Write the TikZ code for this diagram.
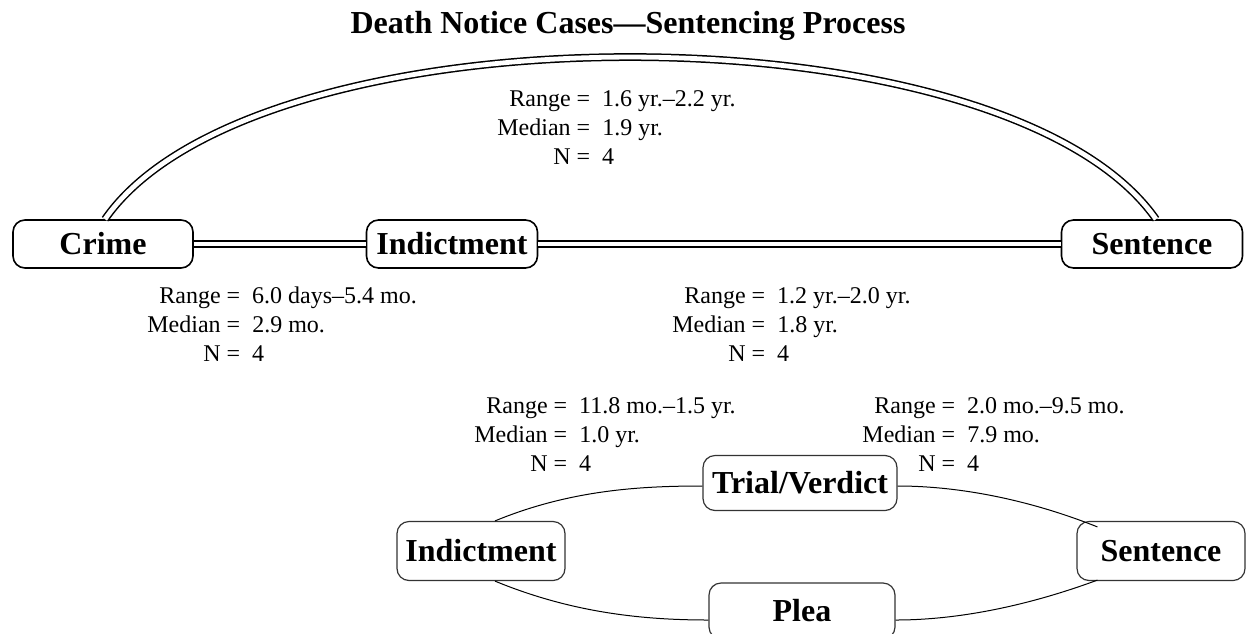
\documentclass[tikz,border=0pt]{standalone}
\usepackage{fontspec}
\setmainfont{Liberation Serif}
\begin{document}
\begin{tikzpicture}[x=0.5pt,y=-0.5pt,
  box/.style={draw, rounded corners=6pt, line width=0.8pt, inner sep=0pt,
    font=\fontsize{16}{18}\selectfont\bfseries},
  sbox/.style={box, draw=black!80, line width=0.6pt},
  dbl/.style={double, double distance=2.4pt, line width=0.75pt},
  conn/.style={line width=0.5pt},
  lab/.style={font=\fontsize{12}{14.5}\selectfont, anchor=west, inner sep=0pt},
  ttl/.style={font=\fontsize{16}{19}\selectfont\bfseries, inner sep=0pt, anchor=base}]
\useasboundingbox (0,0) rectangle (1257,633);

\node[ttl] (title) at (628,33) {Death Notice Cases---Sentencing Process};

% top row
\node[box, minimum width=90pt, minimum height=24pt] (crime) at (103,244) {Crime};
\node[box, minimum width=85.5pt, minimum height=24pt] (ind1) at (452,244) {Indictment};
\node[box, minimum width=90.5pt, minimum height=24pt] (sent1) at (1152,244) {Sentence};

\draw[dbl] (crime.east) -- (ind1.west);
\draw[dbl] (ind1.east) -- (sent1.west);
\draw[dbl] ([xshift=1pt]crime.north) .. controls (255,3) and (1005,3) .. ([xshift=2pt]sent1.north);

\node[lab] (l1) at (497,130) {\begin{tabular}{@{}r@{\ =\ \ }l@{}}Range & 1.6 yr.--2.2 yr.\\ Median & 1.9 yr.\\ N & 4\end{tabular}};
\node[lab] (l2) at (147,327) {\begin{tabular}{@{}r@{\ =\ \ }l@{}}Range & 6.0 days--5.4 mo.\\ Median & 2.9 mo.\\ N & 4\end{tabular}};
\node[lab] (l3) at (672,327) {\begin{tabular}{@{}r@{\ =\ \ }l@{}}Range & 1.2 yr.--2.0 yr.\\ Median & 1.8 yr.\\ N & 4\end{tabular}};
\node[lab] (l4) at (474,437) {\begin{tabular}{@{}r@{\ =\ \ }l@{}}Range & 11.8 mo.--1.5 yr.\\ Median & 1.0 yr.\\ N & 4\end{tabular}};
\node[lab] (l5) at (862,437) {\begin{tabular}{@{}r@{\ =\ \ }l@{}}Range & 2.0 mo.--9.5 mo.\\ Median & 7.9 mo.\\ N & 4\end{tabular}};

% bottom group
\node[sbox, minimum width=97pt, minimum height=27.5pt] (tv) at (800,483) {Trial/Verdict};
\node[sbox, minimum width=84pt, minimum height=29.5pt] (ind2) at (481,551) {Indictment};
\node[sbox, minimum width=84pt, minimum height=29.5pt] (sent2) at (1161,551) {Sentence};
\node[sbox, minimum width=93pt, minimum height=28pt] (plea) at (802,611) {Plea};

\coordinate (i2a) at ([shift={(14,0)}]ind2.north);
\coordinate (i2b) at ([shift={(14,0)}]ind2.south);
\coordinate (s2a) at ([shift={(21,6)}]sent2.north west);
\coordinate (s2b) at ([shift={(21,-1)}]sent2.south west);

\draw[conn] (i2a) .. controls (570,490) and (640,486) .. ([shift={(0,3)}]tv.west);
\draw[conn] ([shift={(0,3)}]tv.east) .. controls (960,486) and (1030,500) .. (s2a);
\draw[conn] (i2b) .. controls (570,612) and (640,620) .. ([shift={(0,9)}]plea.west);
\draw[conn] ([shift={(0,9)}]plea.east) .. controls (960,620) and (1030,605) .. (s2b);
\end{tikzpicture}
\end{document}
